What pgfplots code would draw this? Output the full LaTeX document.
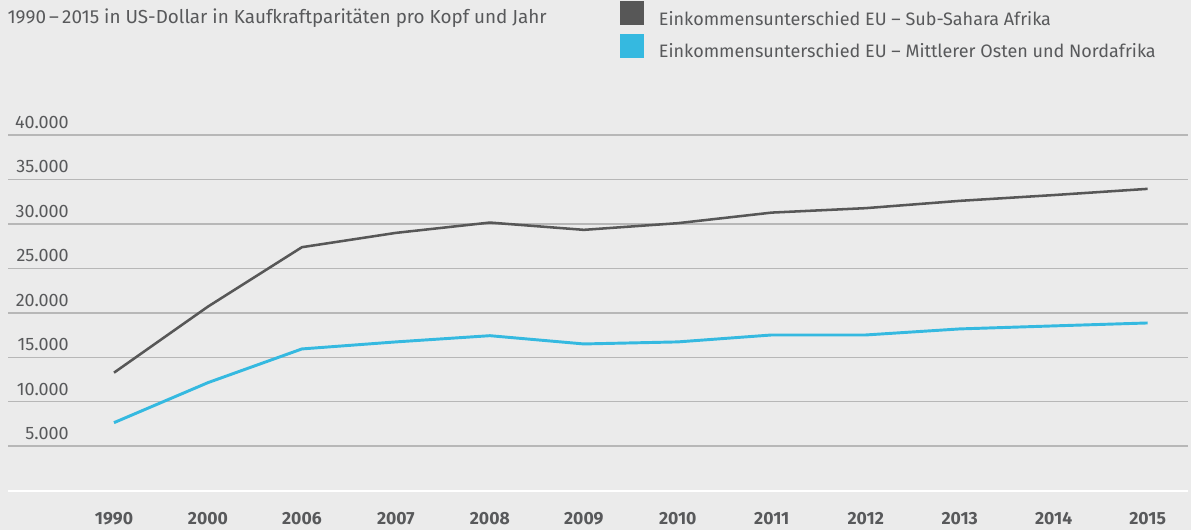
\documentclass[border=0pt]{standalone}
\usepackage{pgfplots}
\pgfplotsset{compat=1.18}
\usepackage{fontspec}
\setmainfont{Fira Sans}
\definecolor{bg}{HTML}{EBEBEB}
\definecolor{gridc}{HTML}{B7B7B7}
\definecolor{darkl}{HTML}{575757}
\definecolor{bluel}{HTML}{35B9E0}
\definecolor{txt}{HTML}{58595B}
\begin{document}
\begin{tikzpicture}[x=0.75pt,y=0.75pt]
\fill[bg] (0,0) rectangle (1191,530);
\begin{axis}[
  at={(6pt,29.475pt)}, anchor=south west,
  scale only axis, width=885pt, height=266.8pt,
  xmin=-1.128, xmax=11.43, ymin=0, ymax=40000,
  axis line style={draw=none}, tick style={draw=none},
  xtick={0,...,11},
  xticklabels={1990,2000,2006,2007,2008,2009,2010,2011,2012,2013,2014,2015},
  xticklabel style={anchor=center, inner sep=0pt, yshift=-21.2pt, font=\fontsize{13.2}{15}\selectfont\bfseries, text=txt},
  ytick={5000,10000,...,40000},
  scaled y ticks=false,
  yticklabel={\pgfmathprintnumber[fixed, precision=0, 1000 sep={.}, assume math mode=true]{\tick}},
  ymajorgrids,
  major grid style={gridc, line width=1.1pt},
  yticklabel style={anchor=east, inner sep=0pt, xshift=45.75pt, yshift=9.5pt, font=\fontsize{13.5}{15}\selectfont, text=txt},
  extra y ticks={0}, extra y tick labels={},
  extra y tick style={major grid style={white, line width=1.6pt}},
  clip=false,
]
\addplot[darkl, line width=1.9pt, line join=round] coordinates {
 (0,13270) (1,20700) (2,27380) (3,28990) (4,30150) (5,29330) (6,30080) (7,31270) (8,31770) (9,32590) (10,33240) (11,33940)};
\addplot[bluel, line width=2.2pt, line join=round] coordinates {
 (0,7650) (1,12150) (2,15940) (3,16730) (4,17430) (5,16500) (6,16730) (7,17510) (8,17510) (9,18190) (10,18530) (11,18860)};
\end{axis}
\node[anchor=base west, inner sep=0pt, text=txt, font=\fontsize{14.15}{16}\selectfont] at (7.3,506) {1990\,–\,2015 in US-Dollar in Kaufkraftparitäten pro Kopf und Jahr};
\fill[darkl] (620,529) rectangle (644,505);
\fill[bluel] (620,496) rectangle (644,472);
\node[anchor=base west, inner sep=0pt, text=txt, font=\fontsize{13.5}{15}\selectfont] at (658.7,504.3) {Einkommensunterschied EU – Sub-Sahara Afrika};
\node[anchor=base west, inner sep=0pt, text=txt, font=\fontsize{13.5}{15}\selectfont] at (658.7,472.3) {Einkommensunterschied EU – Mittlerer Osten und Nordafrika};
\end{tikzpicture}
\end{document}
